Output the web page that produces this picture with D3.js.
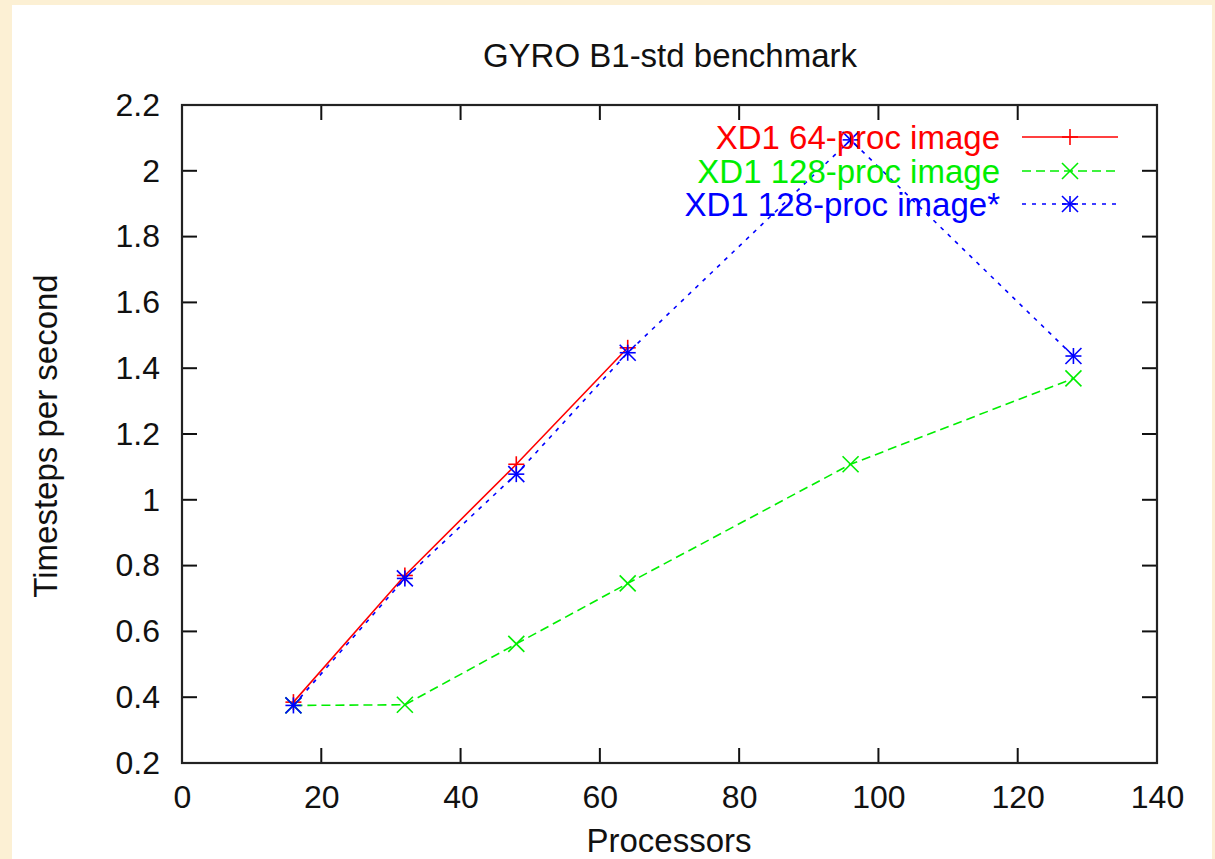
<!DOCTYPE html>
<html>
<head>
<meta charset="utf-8">
<script src="https://cdn.jsdelivr.net/npm/d3@7/dist/d3.min.js"></script>
<style>
  html, body { margin: 0; padding: 0; background: #fcf0d4; }
  svg { display: block; }
  text { font-family: "Liberation Sans", Arial, Helvetica, sans-serif; }
</style>
</head>
<body>
<svg id="chart" width="1215" height="859"></svg>
<script>
// ---- Data ----
const title = "GYRO B1-std benchmark";
const xLabel = "Processors";
const yLabel = "Timesteps per second";
const xTicks = [0, 20, 40, 60, 80, 100, 120, 140];
const yTicks = [0.2, 0.4, 0.6, 0.8, 1, 1.2, 1.4, 1.6, 1.8, 2, 2.2];

const seriesNames = ["XD1 64-proc image", "XD1 128-proc image", "XD1 128-proc image*"];
const red64Procs = [16, 32, 48, 64];
const red64Values = [0.385, 0.770, 1.108, 1.462];
const green128Procs = [16, 32, 48, 64, 96, 128];
const green128Values = [0.375, 0.377, 0.562, 0.746, 1.108, 1.369];
const blue128sProcs = [16, 32, 48, 64, 96, 128];
const blue128sValues = [0.375, 0.761, 1.078, 1.447, 2.094, 1.437];

(function () {
// ---- Styles ----
const seriesStyles = [
  { color: "#ff0000", dash: null, marker: "plus" },
  { color: "#00ee00", dash: "9,5", marker: "cross" },
  { color: "#0000ff", dash: "4,6", marker: "star" }
];
const seriesData = [
  red64Procs.map((p, i) => ({ x: p, y: red64Values[i] })),
  green128Procs.map((p, i) => ({ x: p, y: green128Values[i] })),
  blue128sProcs.map((p, i) => ({ x: p, y: blue128sValues[i] }))
];

const svg = d3.select("#chart");
// white panel
svg.append("rect").attr("x", 12).attr("y", 5).attr("width", 1200).attr("height", 860).attr("fill", "#ffffff");

const pL = 182, pR = 1157, pT = 105, pB = 763;
const x = d3.scaleLinear().domain([0, 140]).range([pL, pR]);
const y = d3.scaleLinear().domain([0.2, 2.2]).range([pB, pT]);

const fontSize = 33;
const tickFont = 32;
const tickLen = 15;

// ticks (mirrored, inward)
const axisColor = "#111";
const tickG = svg.append("g").attr("stroke", axisColor).attr("stroke-width", 2);
xTicks.forEach(t => {
  tickG.append("line").attr("x1", x(t)).attr("x2", x(t)).attr("y1", pB).attr("y2", pB - tickLen);
  tickG.append("line").attr("x1", x(t)).attr("x2", x(t)).attr("y1", pT).attr("y2", pT + tickLen);
});
yTicks.forEach(t => {
  tickG.append("line").attr("y1", y(t)).attr("y2", y(t)).attr("x1", pL).attr("x2", pL + tickLen);
  tickG.append("line").attr("y1", y(t)).attr("y2", y(t)).attr("x1", pR).attr("x2", pR - tickLen);
});

// tick labels via d3 axes (lines hidden)
const xAxis = d3.axisBottom(x).tickValues(xTicks).tickFormat(d3.format("d")).tickSize(0).tickPadding(22);
const gx = svg.append("g").attr("transform", `translate(0,${pB})`).call(xAxis);
gx.select(".domain").remove();
gx.selectAll("text").attr("font-size", tickFont).attr("font-family", "Liberation Sans, Arial, sans-serif").attr("fill", "#111");

const yAxis = d3.axisLeft(y).tickValues(yTicks).tickFormat(d => String(+d.toFixed(1))).tickSize(0).tickPadding(22);
const gy = svg.append("g").attr("transform", `translate(${pL},0)`).call(yAxis);
gy.select(".domain").remove();
gy.selectAll("text").attr("font-size", tickFont).attr("font-family", "Liberation Sans, Arial, sans-serif").attr("fill", "#111");

// border
svg.append("rect").attr("x", pL).attr("y", pT).attr("width", pR - pL).attr("height", pB - pT)
  .attr("fill", "none").attr("stroke", "#222").attr("stroke-width", 2.2);

// markers
function drawMarker(g, type, cx, cy, color) {
  const s = 8;
  const m = g.append("g").attr("stroke", color).attr("stroke-width", 1.6).attr("fill", "none");
  if (type === "plus" || type === "star") {
    m.append("line").attr("x1", cx - s).attr("x2", cx + s).attr("y1", cy).attr("y2", cy);
    m.append("line").attr("x1", cx).attr("x2", cx).attr("y1", cy - s).attr("y2", cy + s);
  }
  if (type === "cross" || type === "star") {
    m.append("line").attr("x1", cx - s).attr("x2", cx + s).attr("y1", cy - s).attr("y2", cy + s);
    m.append("line").attr("x1", cx - s).attr("x2", cx + s).attr("y1", cy + s).attr("y2", cy - s);
  }
}

const line = d3.line().x(d => x(d.x)).y(d => y(d.y));
const plotG = svg.append("g");
seriesData.forEach((data, i) => {
  const st = seriesStyles[i];
  plotG.append("path").datum(data).attr("d", line).attr("fill", "none")
    .attr("stroke", st.color).attr("stroke-width", 1.6)
    .attr("stroke-dasharray", st.dash);
  data.forEach(d => drawMarker(plotG, st.marker, x(d.x), y(d.y), st.color));
});

// legend
const legendRows = [137, 171, 204];
seriesNames.forEach((name, i) => {
  const st = seriesStyles[i];
  const ly = legendRows[i];
  svg.append("text").attr("x", 1000).attr("y", ly).attr("dy", "0.35em").attr("text-anchor", "end")
    .attr("font-size", fontSize).attr("fill", st.color).text(name);
  svg.append("line").attr("x1", 1022).attr("x2", 1118).attr("y1", ly).attr("y2", ly)
    .attr("stroke", st.color).attr("stroke-width", 1.6).attr("stroke-dasharray", st.dash);
  drawMarker(svg, st.marker, 1070, ly, st.color);
});

// title & axis labels
svg.append("text").attr("x", 670).attr("y", 67).attr("text-anchor", "middle")
  .attr("font-size", fontSize).attr("fill", "#111").text(title);
svg.append("text").attr("x", 669).attr("y", 852).attr("text-anchor", "middle")
  .attr("font-size", fontSize).attr("fill", "#111").text(xLabel);
svg.append("text").attr("transform", "translate(57,436) rotate(-90)").attr("text-anchor", "middle")
  .attr("font-size", fontSize).attr("fill", "#111").text(yLabel);
})();
</script>
</body>
</html>
